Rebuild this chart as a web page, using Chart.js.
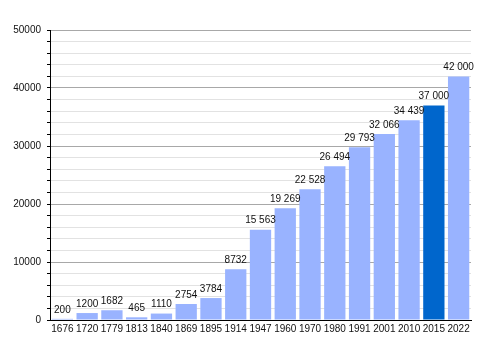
<!DOCTYPE html>
<html>
<head>
<meta charset="utf-8">
<script src="https://cdn.jsdelivr.net/npm/chart.js@4/dist/chart.umd.min.js"></script>
<style>
  html, body { margin: 0; padding: 0; background: #fff; }
  #wrap { width: 500px; height: 350px; }
</style>
</head>
<body>
<div id="wrap"><canvas id="pop"></canvas></div>
<script>
// population by census year
const years = ['1676', '1720', '1779', '1813', '1840', '1869', '1895', '1914', '1947',
               '1960', '1970', '1980', '1991', '2001', '2010', '2015', '2022'];
const population = [200, 1200, 1682, 465, 1110, 2754, 3784, 8732, 15563,
                    19269, 22528, 26494, 29793, 32066, 34439, 37000, 42000];
const highlightYear = '2015';

const FONT = { family: '"Liberation Sans", Arial, sans-serif', size: 10 };

// 5-digit numbers get a space as thousands separator, shorter ones stay plain
const fmt = v => v >= 10000 ? String(v).replace(/\B(?=(\d{3})+(?!\d))/g, ' ') : String(v);

const valueLabels = {
    id: 'valueLabels',
    afterDatasetsDraw(chart) {
        const ctx = chart.ctx;
        const meta = chart.getDatasetMeta(0);
        ctx.save();
        ctx.font = `${FONT.size}px ${FONT.family}`;
        ctx.fillStyle = '#111';
        ctx.textAlign = 'center';
        ctx.textBaseline = 'bottom';
        meta.data.forEach((bar, i) => {
            ctx.fillText(fmt(population[i]), bar.x, bar.y - 4);
        });
        ctx.restore();
    }
};

new Chart(document.getElementById('pop'), {
    type: 'bar',
    data: {
        labels: years,
        datasets: [{
            data: population,
            backgroundColor: years.map(y => y === highlightYear ? '#0066cc' : '#99b3ff'),
            barPercentage: 0.86,
            categoryPercentage: 1
        }]
    },
    options: {
        responsive: true,
        maintainAspectRatio: false,
        animation: false,
        events: [],
        layout: { padding: { left: 0, right: 29, top: 30, bottom: 0 } },
        plugins: { legend: { display: false }, tooltip: { enabled: false } },
        scales: {
            x: {
                afterFit: s => { s.height = 30; },
                grid: { display: true, drawOnChartArea: false, drawTicks: false, color: 'rgba(0,0,0,0)' },
                border: { display: true, color: '#000', width: 1 },
                ticks: { color: '#111', font: FONT, padding: 3, autoSkip: false, maxRotation: 0 }
            },
            y: {
                min: 0,
                max: 50000,
                afterFit: s => { s.width = 50; },
                grid: {
                    color: c => (c.tick && c.tick.value % 10000 === 0) ? '#a8a8a8' : '#e2e2e2',
                    tickColor: '#000',
                    tickLength: 3
                },
                border: { display: true, color: '#000', width: 1 },
                ticks: {
                    stepSize: 2000,
                    autoSkip: false,
                    color: '#111',
                    font: FONT,
                    padding: 6,
                    callback: v => v % 10000 === 0 ? String(v) : ''
                }
            }
        }
    },
    plugins: [valueLabels]
});
</script>
</body>
</html>
